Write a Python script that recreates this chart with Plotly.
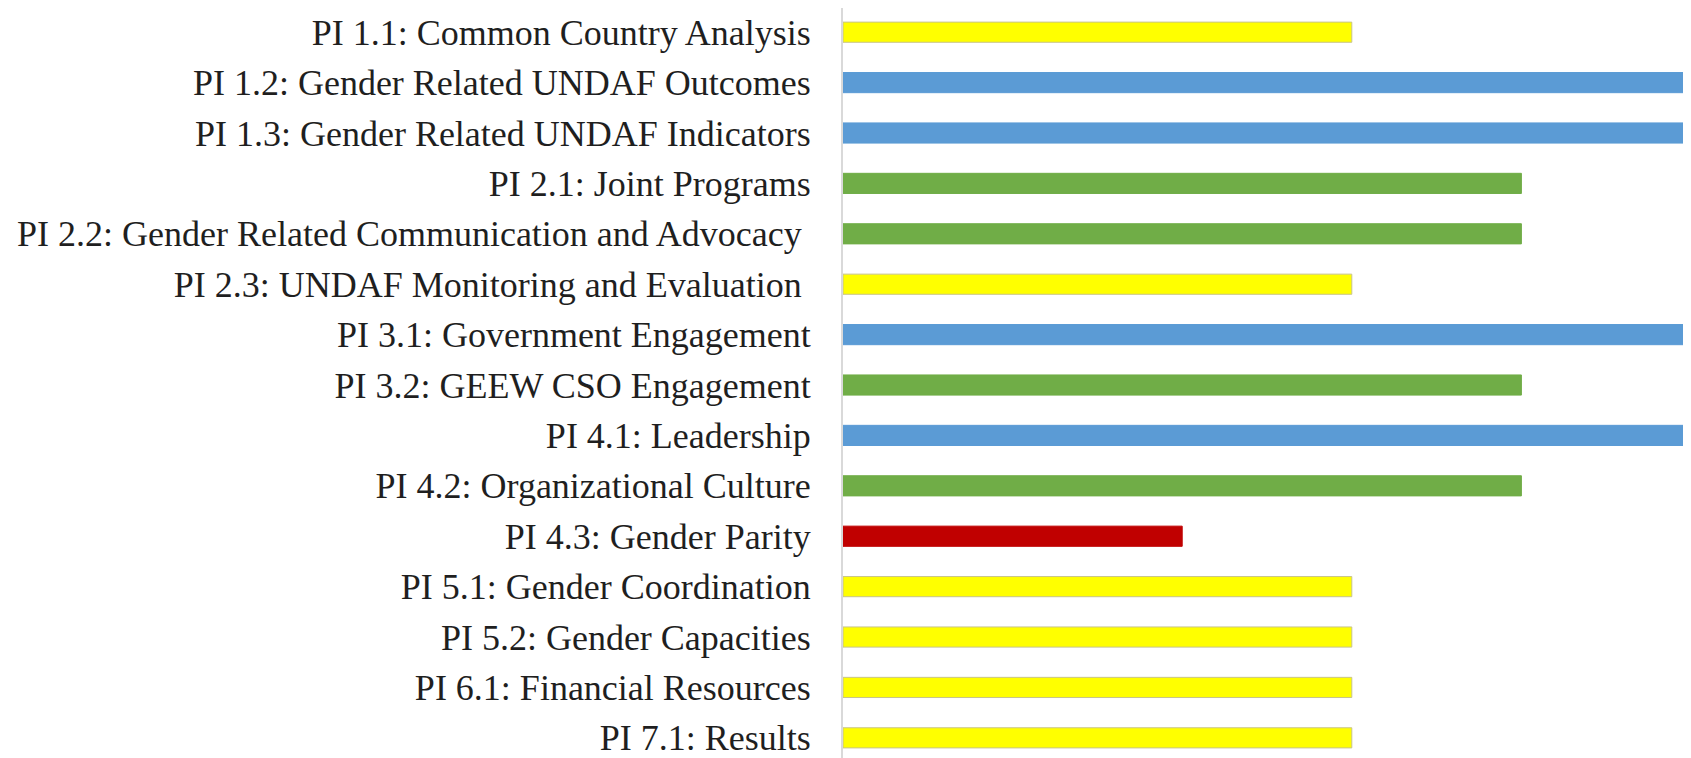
import plotly.graph_objects as go

categories = [
    "PI 1.1: Common Country Analysis",
    "PI 1.2: Gender Related UNDAF Outcomes",
    "PI 1.3: Gender Related UNDAF Indicators",
    "PI 2.1: Joint Programs",
    "PI 2.2: Gender Related Communication and Advocacy\u00a0",
    "PI 2.3: UNDAF Monitoring and Evaluation\u00a0",
    "PI 3.1: Government Engagement",
    "PI 3.2: GEEW CSO Engagement",
    "PI 4.1: Leadership",
    "PI 4.2: Organizational Culture",
    "PI 4.3: Gender Parity",
    "PI 5.1: Gender Coordination",
    "PI 5.2: Gender Capacities",
    "PI 6.1: Financial Resources",
    "PI 7.1: Results",
]
scores = [3, 5, 5, 4, 4, 3, 5, 4, 5, 4, 2, 3, 3, 3, 3]

score_colors = {2: "#C00000", 3: "#FFFF00", 4: "#70AD47", 5: "#5B9BD5"}
score_lines = {2: "#C00000", 3: "#C8C48A", 4: "#70AD47", 5: "#5B9BD5"}

fig = go.Figure(
    go.Bar(
        x=scores,
        y=categories,
        orientation="h",
        marker=dict(
            color=[score_colors[s] for s in scores],
            line=dict(color=[score_lines[s] for s in scores], width=1),
        ),
        width=0.4,
        hoverinfo="x+y",
    )
)

# page body has an 8px default margin, so the figure is sized to fit the window
fig.update_layout(
    width=1683,
    height=750,
    margin=dict(l=835, r=0, t=0, b=0, autoexpand=False),
    paper_bgcolor="white",
    plot_bgcolor="white",
    showlegend=False,
    font=dict(family="Liberation Serif, Times New Roman, serif", size=36, color="#1f1f1f"),
    xaxis=dict(
        range=[0, 5],
        showgrid=False,
        zeroline=False,
        showticklabels=False,
        ticks="",
        showline=False,
        fixedrange=True,
        automargin=False,
    ),
    yaxis=dict(
        type="category",
        categoryorder="array",
        categoryarray=categories,
        range=[14.4, -0.48],
        showgrid=False,
        zeroline=False,
        showline=True,
        linecolor="#D9D9D9",
        linewidth=2,
        ticks="",
        ticklabelstandoff=23,
        fixedrange=True,
        automargin=False,
    ),
)

fig.write_html("out.html")
